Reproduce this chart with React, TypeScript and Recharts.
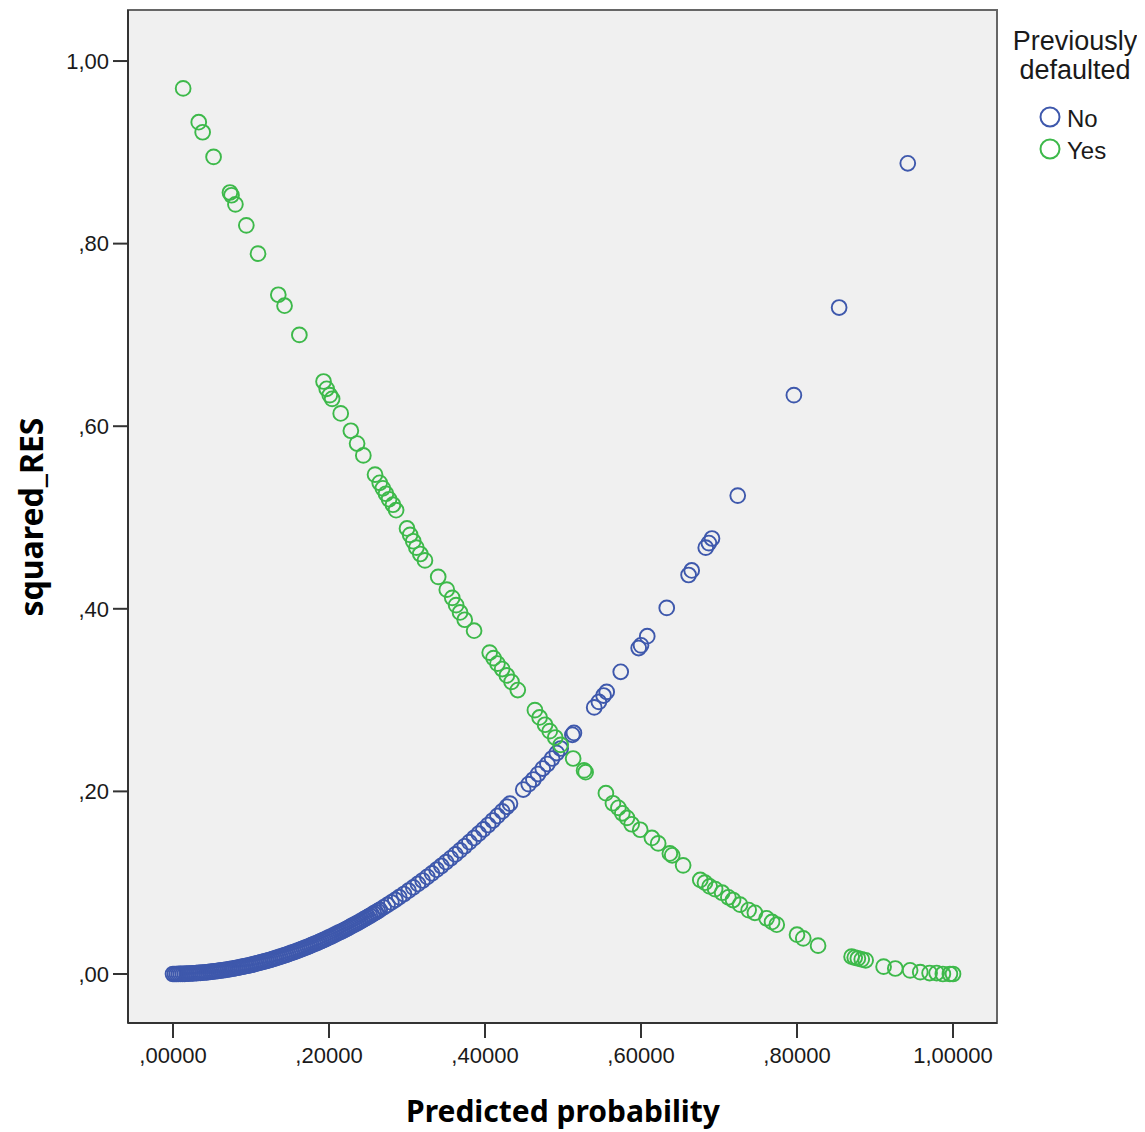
import React from 'react';
import { ScatterChart, Scatter, XAxis, YAxis, CartesianGrid, ReferenceArea, Label } from 'recharts';

// Previously defaulted = No : predicted probability and squared residual
const noP = [
  0.0000, 0.0025, 0.0050, 0.0075, 0.0100, 0.0125, 0.0150, 0.0175, 0.0200, 0.0225, 0.0250, 0.0275,
  0.0300, 0.0325, 0.0350, 0.0375, 0.0400, 0.0425, 0.0450, 0.0475, 0.0500, 0.0525, 0.0550, 0.0575,
  0.0600, 0.0625, 0.0650, 0.0675, 0.0700, 0.0725, 0.0750, 0.0775, 0.0800, 0.0825, 0.0850, 0.0875,
  0.0900, 0.0925, 0.0950, 0.0975, 0.1000, 0.1025, 0.1050, 0.1075, 0.1100, 0.1125, 0.1150, 0.1175,
  0.1200, 0.1225, 0.1250, 0.1275, 0.1300, 0.1325, 0.1350, 0.1375, 0.1400, 0.1425, 0.1450, 0.1475,
  0.1500, 0.1525, 0.1550, 0.1575, 0.1600, 0.1625, 0.1650, 0.1675, 0.1700, 0.1725, 0.1750, 0.1775,
  0.1800, 0.1825, 0.1850, 0.1875, 0.1900, 0.1925, 0.1950, 0.1975, 0.2000, 0.2025, 0.2050, 0.2075,
  0.2100, 0.2125, 0.2150, 0.2175, 0.2200, 0.2225, 0.2250, 0.2275, 0.2300, 0.2325, 0.2350, 0.2375,
  0.2400, 0.2425, 0.2450, 0.2475, 0.2500, 0.2525, 0.2550, 0.2575, 0.2600, 0.2625, 0.2650,
  0.270, 0.275, 0.280, 0.285, 0.290, 0.296, 0.302, 0.308, 0.314, 0.320, 0.326, 0.332, 0.338, 0.344,
  0.350, 0.356, 0.362, 0.368, 0.374, 0.380, 0.386, 0.392, 0.398, 0.404, 0.410, 0.416, 0.422, 0.428,
  0.432, 0.449, 0.456, 0.462, 0.468, 0.474, 0.480, 0.486, 0.492, 0.497, 0.512, 0.514,
  0.540, 0.546, 0.552, 0.556, 0.574, 0.597, 0.600, 0.608, 0.633, 0.661, 0.665, 0.683, 0.687, 0.691,
  0.724, 0.796, 0.854, 0.942,
];
const noRes = [
  0.0000, 0.0000, 0.0000, 0.0001, 0.0001, 0.0002, 0.0002, 0.0003, 0.0004, 0.0005, 0.0006, 0.0008,
  0.0009, 0.0011, 0.0012, 0.0014, 0.0016, 0.0018, 0.0020, 0.0023, 0.0025, 0.0028, 0.0030, 0.0033,
  0.0036, 0.0039, 0.0042, 0.0046, 0.0049, 0.0053, 0.0056, 0.0060, 0.0064, 0.0068, 0.0072, 0.0077,
  0.0081, 0.0086, 0.0090, 0.0095, 0.0100, 0.0105, 0.0110, 0.0116, 0.0121, 0.0127, 0.0132, 0.0138,
  0.0144, 0.0150, 0.0156, 0.0163, 0.0169, 0.0176, 0.0182, 0.0189, 0.0196, 0.0203, 0.0210, 0.0218,
  0.0225, 0.0233, 0.0240, 0.0248, 0.0256, 0.0264, 0.0272, 0.0281, 0.0289, 0.0298, 0.0306, 0.0315,
  0.0324, 0.0333, 0.0342, 0.0352, 0.0361, 0.0371, 0.0380, 0.0390, 0.0400, 0.0410, 0.0420, 0.0431,
  0.0441, 0.0452, 0.0462, 0.0473, 0.0484, 0.0495, 0.0506, 0.0518, 0.0529, 0.0541, 0.0552, 0.0564,
  0.0576, 0.0588, 0.0600, 0.0613, 0.0625, 0.0638, 0.0650, 0.0663, 0.0676, 0.0689, 0.0702,
  0.0729, 0.0756, 0.0784, 0.0812, 0.0841, 0.0876, 0.0912, 0.0949, 0.0986, 0.1024, 0.1063, 0.1102,
  0.1142, 0.1183, 0.1225, 0.1267, 0.1310, 0.1354, 0.1399, 0.1444, 0.1490, 0.1537, 0.1584, 0.1632,
  0.1681, 0.1731, 0.1781, 0.1832,
  0.1866, 0.202, 0.208, 0.213, 0.219, 0.225, 0.230, 0.236, 0.242, 0.247, 0.262, 0.264,
  0.292, 0.298, 0.305, 0.309, 0.331, 0.357, 0.360, 0.370, 0.401, 0.437, 0.442, 0.467, 0.472, 0.477,
  0.524, 0.634, 0.730, 0.888,
];

// Previously defaulted = Yes
const yesP = [
  0.013, 0.033, 0.038, 0.052, 0.073, 0.075, 0.080, 0.094, 0.109, 0.135, 0.143, 0.162, 0.193, 0.197,
  0.201, 0.204, 0.215, 0.228, 0.236, 0.244, 0.259, 0.265, 0.269, 0.273, 0.277, 0.282, 0.286, 0.300,
  0.304, 0.308, 0.312, 0.317, 0.323, 0.340, 0.351, 0.358, 0.363, 0.368, 0.374, 0.386, 0.406, 0.411,
  0.416, 0.422, 0.428, 0.434, 0.442, 0.464, 0.470, 0.477, 0.483, 0.490, 0.497, 0.513, 0.527, 0.529,
  0.555, 0.564, 0.571, 0.576, 0.582, 0.588, 0.599, 0.614, 0.622, 0.637, 0.640, 0.654, 0.676, 0.682,
  0.688, 0.695, 0.704, 0.712, 0.718, 0.727, 0.738, 0.746, 0.761, 0.768, 0.774, 0.800, 0.808, 0.827,
  0.870, 0.874, 0.878, 0.883, 0.888, 0.911, 0.926, 0.945, 0.958, 0.970, 0.979, 0.987, 0.996, 1.000,
];
const yesRes = [
  0.970, 0.933, 0.922, 0.895, 0.856, 0.853, 0.843, 0.820, 0.789, 0.744, 0.732, 0.700, 0.649, 0.641,
  0.634, 0.630, 0.614, 0.595, 0.581, 0.568, 0.547, 0.538, 0.532, 0.526, 0.520, 0.514, 0.508, 0.488,
  0.481, 0.474, 0.467, 0.460, 0.453, 0.435, 0.421, 0.412, 0.404, 0.396, 0.388, 0.376, 0.352, 0.346,
  0.340, 0.334, 0.327, 0.320, 0.311, 0.289, 0.281, 0.273, 0.266, 0.259, 0.251, 0.236, 0.223, 0.221,
  0.198, 0.187, 0.182, 0.176, 0.171, 0.164, 0.158, 0.149, 0.143, 0.132, 0.130, 0.119, 0.103, 0.100,
  0.096, 0.093, 0.089, 0.084, 0.081, 0.076, 0.070, 0.067, 0.061, 0.057, 0.054, 0.043, 0.039, 0.031,
  0.019, 0.018, 0.017, 0.016, 0.015, 0.008, 0.006, 0.004, 0.002, 0.001, 0.001, 0.000, 0.000, 0.000,
];

const xTicks = [0, 0.2, 0.4, 0.6, 0.8, 1];
const yTicks = [0, 0.2, 0.4, 0.6, 0.8, 1];
const seriesNames = ['No', 'Yes'];
const legendTitle = ['Previously', 'defaulted'];
const xTitle = 'Predicted probability';
const yTitle = 'squared_RES';

const BLUE = '#3E58AC';
const GREEN = '#3DB94A';

const noData = noP.map((p, i) => ({ p, r: noRes[i] }));
const yesData = yesP.map((p, i) => ({ p, r: yesRes[i] }));

const fmtX = (v: number) => v.toFixed(5).replace('.', ',').replace(/^0,/, ',');
const fmtY = (v: number) => v.toFixed(2).replace('.', ',').replace(/^0,/, ',');

const ring = (color: string) => (props: any) => {
  const { cx, cy } = props;
  if (cx == null || cy == null) return <g />;
  return <circle cx={cx} cy={cy} r={7.4} fill="none" stroke={color} strokeWidth={1.9} />;
};

const W = 1137;
const H = 1124;
const tickFont = { fontSize: 22, fontFamily: '"Liberation Sans", Arial, sans-serif', fill: '#1a1a1a' };

export default function App() {
  return (
    <div style={{ position: 'relative', width: W, height: H, background: '#fff' }}>
      <ScatterChart width={W} height={H} margin={{ top: 2, right: 148, bottom: 0, left: 0 }}>
        <CartesianGrid horizontal={false} vertical={false} fill="#F0F0F0" />
        <XAxis
          type="number"
          dataKey="p"
          domain={[-0.0577, 1.0564]}
          allowDataOverflow
          ticks={xTicks}
          tickFormatter={fmtX}
          height={109}
          tickSize={15}
          tickMargin={9}
          axisLine={{ stroke: '#333', strokeWidth: 2 }}
          tickLine={{ stroke: '#333', strokeWidth: 2 }}
          tick={tickFont}
        >
          <Label
            content={() => (
              <text x={555} y={1114} textAnchor="middle" fontSize={30} fontWeight="bold"
                fontFamily='"Noto Sans", "Open Sans", sans-serif' fill="#000">{xTitle}</text>
            )}
          />
        </XAxis>
        <YAxis
          type="number"
          dataKey="r"
          domain={[-0.0537, 1.0559]}
          allowDataOverflow
          ticks={yTicks}
          tickFormatter={fmtY}
          width={120}
          tickSize={15}
          tickMargin={4}
          axisLine={{ stroke: '#333', strokeWidth: 2 }}
          tickLine={{ stroke: '#333', strokeWidth: 2 }}
          tick={tickFont}
        >
          <Label
            content={() => (
              <text x={35} y={509} transform="rotate(-90 35 509)" textAnchor="middle" fontSize={32}
                fontWeight="bold" fontFamily='"Noto Sans", "Open Sans", sans-serif' fill="#000">{yTitle}</text>
            )}
          />
        </YAxis>
        <ReferenceArea x1={-0.0577} x2={1.0564} y1={-0.0537} y2={1.0559} fill="none"
          stroke="#666" strokeWidth={2} ifOverflow="extendDomain" />
        <Scatter name={seriesNames[0]} data={noData} shape={ring(BLUE)} isAnimationActive={false} />
        <Scatter name={seriesNames[1]} data={yesData} shape={ring(GREEN)} isAnimationActive={false} />
      </ScatterChart>
      <svg width={150} height={170} style={{ position: 'absolute', left: 990, top: 0 }}>
        <g fontFamily='"Liberation Sans", Arial, sans-serif' fill="#1a1a1a">
          <text x={77} y={42} textAnchor="middle" fontSize={27}>{legendTitle[0]}</text>
          <text x={77} y={71} textAnchor="middle" fontSize={27}>{legendTitle[1]}</text>
          <circle cx={52} cy={109} r={9.5} fill="none" stroke={BLUE} strokeWidth={2} />
          <text x={69} y={119} fontSize={24}>{seriesNames[0]}</text>
          <circle cx={52} cy={141} r={9.5} fill="none" stroke={GREEN} strokeWidth={2} />
          <text x={69} y={151} fontSize={24}>{seriesNames[1]}</text>
        </g>
      </svg>
    </div>
  );
}
